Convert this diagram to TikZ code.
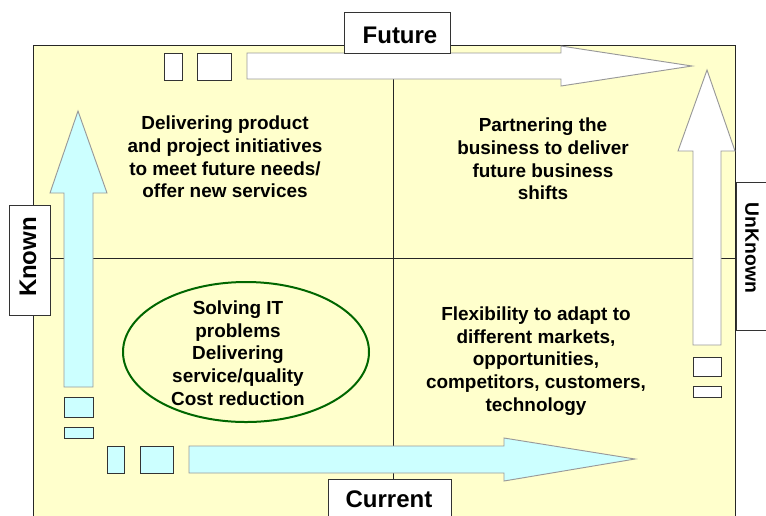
\documentclass[tikz,border=0pt]{standalone}
\usepackage{fontspec}
\setmainfont{Liberation Sans}
\definecolor{paleyellow}{HTML}{FFFFCC}
\definecolor{palecyan}{HTML}{CCFFFF}
\definecolor{ovalgreen}{HTML}{006600}

\begin{document}
\begin{tikzpicture}[x=0.75pt,y=-0.75pt,
	quad/.style={align=center,font=\bfseries\fontsize{14.2}{17}\selectfont},
	labelbox/.style={draw=black!80,fill=white,line width=0.7pt},
	labeltext/.style={font=\bfseries\fontsize{18}{20}\selectfont,inner sep=0pt},
	whitearrow/.style={draw=black!40,fill=white,line width=0.7pt},
	cyanarrow/.style={draw=black!40,fill=palecyan,line width=0.7pt},
	whitetick/.style={draw=black!80,fill=white,line width=0.7pt},
	cyantick/.style={draw=black!80,fill=palecyan,line width=0.7pt}]

	\useasboundingbox (0,0) rectangle (766,515);
	\clip (0,0) rectangle (766,515);

	% the grid
	\draw [fill=paleyellow, draw=black!85, line width=0.7pt] (33,45) rectangle (735,530);
	\draw [black!85, line width=0.6pt] (393,45) -- (393,530);
	\draw [black!85, line width=0.6pt] (33,258) -- (735,258);

	% top arrow
	\draw [whitetick] (164,53) rectangle (182,80);
	\draw [whitetick] (197,53) rectangle (231,80);
	\draw [whitearrow] (247,53) -- (561,53) -- (561,46) -- (692,66) -- (561,86) -- (561,79) -- (247,79) -- cycle;

	% right arrow
	\draw [whitetick] (693,357) rectangle (721,376);
	\draw [whitetick] (693,386) rectangle (721,397);
	\draw [whitearrow] (693,345) -- (693,151) -- (678,151) -- (707,70) -- (735,151) -- (721,151) -- (721,345) -- cycle;

	% left arrow
	\draw [cyantick] (64,397) rectangle (93,417);
	\draw [cyantick] (64,427) rectangle (93,438);
	\draw [cyanarrow] (64,387) -- (64,193) -- (50,193) -- (78,111) -- (107,193) -- (93,193) -- (93,387) -- cycle;

	% bottom arrow
	\draw [cyantick] (107,446) rectangle (124,473);
	\draw [cyantick] (140,446) rectangle (173,473);
	\draw [cyanarrow] (189,446) -- (504,446) -- (504,438) -- (635,459) -- (504,481) -- (504,473) -- (189,473) -- cycle;

	% quadrants
	\node (q1) [quad] at (225,157) {Delivering product\\and project initiatives\\to meet future needs/\\offer new services};
	\node (q2) [quad] at (543,159) {Partnering the\\business to deliver\\future business\\shifts};
	\draw [ovalgreen, line width=1.5pt] (246,352) ellipse [x radius=123, y radius=70];
	\node (q3) [quad] at (238,353) {Solving IT\\problems\\Delivering\\service/quality\\Cost reduction};
	\node (q4) [quad] at (536,361) {Flexibility to adapt to\\different markets,\\opportunities,\\competitors, customers,\\technology};

	% axis labels
	\draw [labelbox] (344,12) rectangle (450,53);
	\node (future) [labeltext] at (400,35) {Future};
	\draw [labelbox] (328,479) rectangle (451,530);
	\node (current) [labeltext] at (389,499) {Current};
	\draw [labelbox] (9,205) rectangle (50,315);
	\node (known) [labeltext, rotate=90] at (28,257) {Known};
	\draw [labelbox] (736,182) rectangle (780,330);
	\node (unknown) [labeltext, rotate=-90, font=\bfseries\fontsize{14.5}{16}\selectfont] at (752,248) {UnKnown};

\end{tikzpicture}
\end{document}
